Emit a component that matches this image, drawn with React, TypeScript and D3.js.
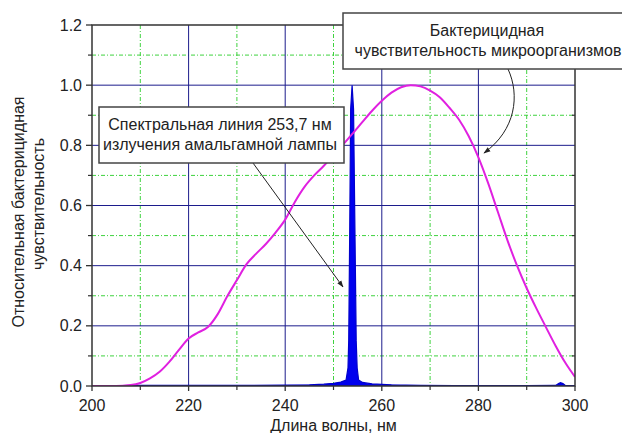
import React from "react";
import * as d3 from "d3";

const W = 622;
const H = 433;

// Bactericidal sensitivity curve (wavelength nm, relative value)
const sensWl = [200, 205, 208, 210, 212, 214, 216, 218, 220, 222, 224, 226, 228, 230, 232, 234, 236, 238, 240, 242, 244, 246, 248, 250, 252, 254, 256, 258, 260, 262, 264, 266, 268, 270, 272, 274, 276, 278, 280, 282, 284, 286, 288, 290, 292, 294, 296, 298, 300];
const sensVal = [0, 0, 0.003, 0.01, 0.025, 0.047, 0.08, 0.12, 0.158, 0.178, 0.196, 0.238, 0.298, 0.352, 0.405, 0.44, 0.472, 0.51, 0.553, 0.612, 0.662, 0.7, 0.732, 0.768, 0.803, 0.84, 0.878, 0.915, 0.948, 0.975, 0.993, 1.0, 0.996, 0.982, 0.96, 0.925, 0.885, 0.83, 0.76, 0.675, 0.58, 0.485, 0.4, 0.325, 0.258, 0.195, 0.133, 0.077, 0.03];

// Lamp emission spectrum (wavelength nm, relative intensity)
const specWl = [200, 209, 230, 240, 245, 248, 250, 251.5, 252.6, 253.0, 253.15, 253.35, 253.55, 253.85, 254.15, 254.45, 254.7, 254.9, 255.2, 256, 258, 262, 268, 275, 290, 296.0, 296.6, 297.0, 297.5, 298.0, 300];
const specVal = [0, 0.002, 0.002, 0.003, 0.004, 0.006, 0.009, 0.013, 0.02, 0.06, 0.15, 0.5, 0.92, 1.0, 0.92, 0.5, 0.15, 0.06, 0.02, 0.012, 0.007, 0.004, 0.002, 0.0015, 0.0012, 0.002, 0.008, 0.011, 0.008, 0.002, 0.001];

const xMajor = [200, 220, 240, 260, 280, 300];
const xMinor = [210, 230, 250, 270, 290];
const yMajor = [0, 0.2, 0.4, 0.6, 0.8, 1.0, 1.2];
const yMinor = [0.1, 0.3, 0.5, 0.7, 0.9, 1.1];

const xTitle = "Длина волны, нм";
const yTitle1 = "Относительная бактерицидная";
const yTitle2 = "чувствительность";
const note1 = ["Спектральная линия 253,7 нм", "излучения амальгамной лампы"];
const note2 = ["Бактерицидная", "чувствительность микроорганизмов"];

export default function App() {
  const L = 92, T = 25, R = 575, B = 386;
  const x = d3.scaleLinear().domain([200, 300]).range([L, R]);
  const y = d3.scaleLinear().domain([0, 1.2]).range([B, T]);

  const sensPts: [number, number][] = sensWl.map((w, i) => [w, sensVal[i]]);
  const specPts: [number, number][] = specWl.map((w, i) => [w, specVal[i]]);

  const line = d3.line<[number, number]>().x(d => x(d[0])).y(d => y(d[1])).curve(d3.curveMonotoneX);
  const area = d3.area<[number, number]>().x(d => x(d[0])).y0(y(0)).y1(d => y(d[1])).curve(d3.curveLinear);

  const font = "'Liberation Sans', Arial, sans-serif";
  const major = "#1c1c8c";
  const minor = "#3fd23f";
  const fs = 16;

  return (
    <svg width={W} height={H} style={{ position: "absolute", left: 0, top: 0, background: "#fff" }} fontFamily={font}>
      <defs>
        <marker id="ah" viewBox="0 0 10 10" refX="9" refY="5" markerWidth="7" markerHeight="7" orient="auto">
          <path d="M0,1.5 L10,5 L0,8.5 z" fill="#222" />
        </marker>
        <clipPath id="pc"><rect x={L} y={T} width={R - L} height={B - T} /></clipPath>
      </defs>
      {/* minor grid */}
      {xMinor.map(v => (
        <line key={"xm" + v} x1={x(v)} x2={x(v)} y1={T} y2={B} stroke={minor} strokeWidth={1} strokeDasharray="4,2,1,2" />
      ))}
      {yMinor.map(v => (
        <line key={"ym" + v} x1={L} x2={R} y1={y(v)} y2={y(v)} stroke={minor} strokeWidth={1} strokeDasharray="4,2,1,2" />
      ))}
      {/* major grid */}
      {xMajor.slice(1, -1).map(v => (
        <line key={"xM" + v} x1={x(v)} x2={x(v)} y1={T} y2={B} stroke={major} strokeWidth={1} />
      ))}
      {yMajor.slice(1, -1).map(v => (
        <line key={"yM" + v} x1={L} x2={R} y1={y(v)} y2={y(v)} stroke={major} strokeWidth={1} />
      ))}
      {/* data */}
      <g clipPath="url(#pc)">
        <path d={area(specPts) || ""} fill="#0000ee" stroke="#0000cc" strokeWidth={1.2} />
        <path d={line(sensPts) || ""} fill="none" stroke="#e020e0" strokeWidth={2} />
      </g>
      {/* frame */}
      <rect x={L} y={T} width={R - L} height={B - T} fill="none" stroke="#333" strokeWidth={1.5} />
      {/* ticks */}
      {yMajor.map(v => (
        <line key={"ty" + v} x1={L - 6} x2={L} y1={y(v)} y2={y(v)} stroke="#333" strokeWidth={1.3} />
      ))}
      {yMinor.map(v => (
        <g key={"tym" + v}>
          <line x1={L - 4} x2={L} y1={y(v)} y2={y(v)} stroke="#333" strokeWidth={1.2} />
          <line x1={R - 3} x2={R} y1={y(v)} y2={y(v)} stroke="#333" strokeWidth={1.2} />
        </g>
      ))}
      {xMajor.map(v => (
        <line key={"tx" + v} x1={x(v)} x2={x(v)} y1={B} y2={B + 5} stroke="#333" strokeWidth={1.3} />
      ))}
      {xMinor.map(v => (
        <line key={"txm" + v} x1={x(v)} x2={x(v)} y1={B} y2={B + 4} stroke="#333" strokeWidth={1.2} />
      ))}
      {/* tick labels */}
      {yMajor.map(v => (
        <text key={"ly" + v} x={L - 10} y={y(v) + 5.5} fontSize={fs} textAnchor="end" fill="#222">{v.toFixed(1)}</text>
      ))}
      {xMajor.map(v => (
        <text key={"lx" + v} x={x(v)} y={411} fontSize={fs} textAnchor="middle" fill="#222">{v}</text>
      ))}
      {/* axis titles */}
      <text x={x(250)} y={431} fontSize={fs} textAnchor="middle" fill="#222">{xTitle}</text>
      <text transform="translate(24,212) rotate(-90)" fontSize={fs} textAnchor="middle" fill="#222">{yTitle1}</text>
      <text transform="translate(44,204) rotate(-90)" fontSize={fs} textAnchor="middle" fill="#222">{yTitle2}</text>
      {/* annotation 1 */}
      <line x1={253} y1={163} x2={343} y2={287} stroke="#222" strokeWidth={1} markerEnd="url(#ah)" />
      <rect x={99} y={107} width={245} height={56} fill="#fff" stroke="#444" strokeWidth={1.5} />
      <text x={220} y={130} fontSize={fs} textAnchor="middle" fill="#222">{note1[0]}</text>
      <text x={220} y={150} fontSize={fs} textAnchor="middle" fill="#222">{note1[1]}</text>
      {/* annotation 2 */}
      <path d="M508,69 C520,95 516,130 484,153" fill="none" stroke="#222" strokeWidth={1} markerEnd="url(#ah)" />
      <rect x={343} y={13} width={290} height={56} fill="#fff" stroke="#444" strokeWidth={1.5} />
      <text x={487} y={36} fontSize={fs} textAnchor="middle" fill="#222">{note2[0]}</text>
      <text x={488} y={56} fontSize={fs} textAnchor="middle" fill="#222">{note2[1]}</text>
    </svg>
  );
}
